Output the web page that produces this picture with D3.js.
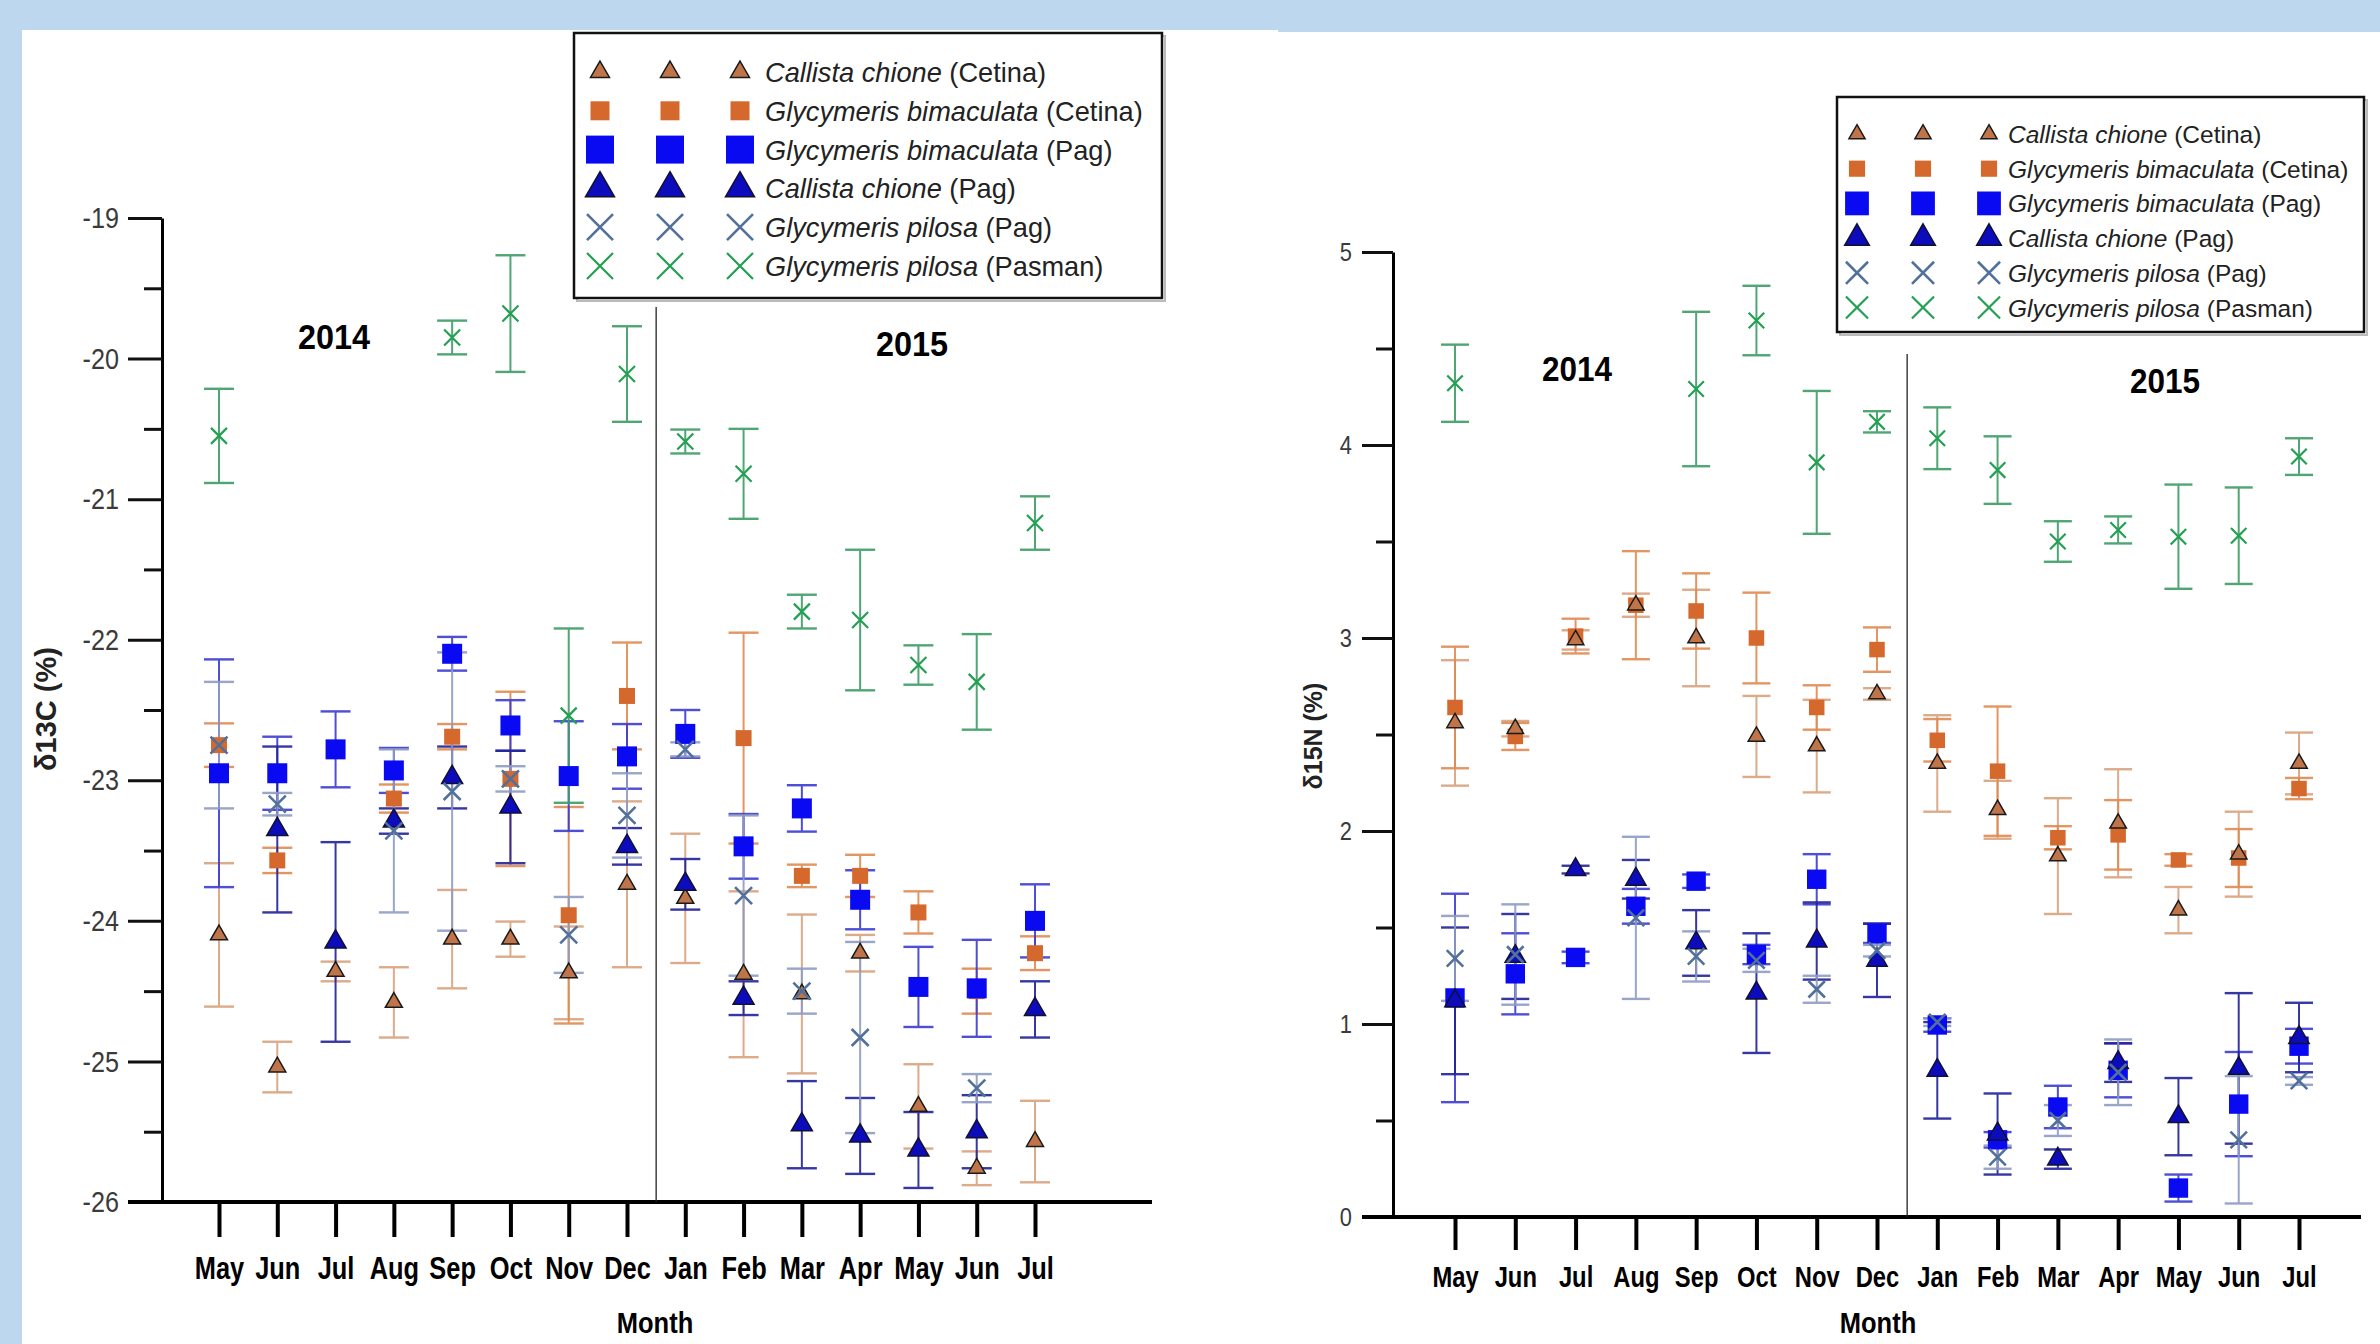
<!DOCTYPE html>
<html>
<head>
<meta charset="utf-8">
<script src="https://cdn.jsdelivr.net/npm/d3@7"></script>
<style>
  body { margin: 0; background: #bdd7ee; }
  svg { display: block; }
</style>
</head>
<body>
<svg id="chart" width="2380" height="1344"></svg>
<script>
const months = ["May","Jun","Jul","Aug","Sep","Oct","Nov","Dec","Jan","Feb","Mar","Apr","May","Jun","Jul"];

// d13C means and error half-widths (null = not sampled)
const c13CallistaCetina    = [-24.10,-25.04,-24.36,-24.58,-24.13,-24.13,-24.37,-23.74,-23.84,-24.38,-24.52,-24.23,-25.32,-25.76,-25.57];
const c13CallistaCetinaErr = [0.51,0.18,0.07,0.25,0.35,0.125,0.33,0.59,0.46,0.59,0.565,0.13,0.30,0.12,0.29];
const c13BimacCetina       = [-22.75,-23.57,null,-23.13,-22.69,-22.99,-23.96,-22.40,null,-22.70,-23.68,-23.68,-23.94,-24.50,-24.23];
const c13BimacCetinaErr    = [0.155,0.09,null,0.10,0.09,0.62,0.77,0.38,null,0.75,0.08,0.15,0.15,0.16,0.12];
const c13BimacPag          = [-22.95,-22.95,-22.78,-22.93,-22.10,-22.61,-22.97,-22.83,-22.67,-23.47,-23.20,-23.85,-24.47,-24.48,-24.00];
const c13BimacPagErr       = [0.81,0.26,0.27,0.16,0.12,0.18,0.39,0.23,0.17,0.23,0.165,0.21,0.285,0.345,0.26];
const c13CallistaPag       = [null,-23.35,-24.15,-23.29,-22.98,-23.19,null,-23.47,-23.74,-24.55,-25.45,-25.53,-25.63,-25.50,-24.63];
const c13CallistaPagErr    = [null,0.59,0.71,0.09,0.22,0.40,null,0.13,0.18,0.12,0.31,0.27,0.27,0.26,0.20];
const c13PilosaPag         = [-22.75,-23.17,null,-23.36,-23.08,-22.99,-24.10,-23.25,-22.78,-23.82,-24.50,-24.83,null,-25.19,null];
const c13PilosaPagErr      = [0.45,0.08,null,0.58,0.99,0.09,0.27,0.30,0.05,0.57,0.16,0.68,null,0.10,null];
const c13PilosaPasman      = [-20.55,null,null,null,-19.85,-19.68,-22.54,-20.11,-20.59,-20.82,-21.80,-21.86,-22.18,-22.30,-21.17];
const c13PilosaPasmanErr   = [0.335,null,null,null,0.12,0.415,0.62,0.34,0.085,0.32,0.12,0.50,0.14,0.34,0.19];

// d15N means and error half-widths
const n15CallistaCetina    = [2.56,2.53,2.99,3.17,3.00,2.49,2.44,2.71,2.35,2.11,1.87,2.04,1.59,1.88,2.35];
const n15CallistaCetinaErr = [0.325,0.04,0.05,0.06,0.25,0.21,0.24,0.03,0.25,0.15,0.30,0.28,0.12,0.22,0.16];
const n15BimacCetina       = [2.64,2.49,3.01,3.17,3.14,3.00,2.64,2.94,2.47,2.31,1.965,1.98,1.85,1.86,2.22];
const n15BimacCetinaErr    = [0.315,0.07,0.09,0.28,0.195,0.235,0.115,0.115,0.11,0.335,0.06,0.18,0.03,0.15,0.055];
const n15BimacPag          = [1.135,1.26,1.345,1.61,1.74,1.36,1.75,1.47,0.995,0.40,0.57,0.76,0.15,0.585,0.885];
const n15BimacPagErr       = [0.54,0.21,0.03,0.09,0.035,0.05,0.13,0.05,0.035,0.04,0.11,0.14,0.07,0.27,0.09];
const n15CallistaPag       = [1.12,1.35,1.80,1.75,1.42,1.16,1.43,1.33,0.76,0.43,0.30,0.80,0.52,0.77,0.93];
const n15CallistaPagErr    = [0.38,0.22,0.02,0.10,0.17,0.31,0.20,0.19,0.25,0.21,0.05,0.10,0.20,0.39,0.18];
const n15PilosaPag         = [1.34,1.36,null,1.55,1.35,1.33,1.18,1.38,1.01,0.31,0.50,0.75,null,0.40,0.705];
const n15PilosaPagErr      = [0.22,0.26,null,0.42,0.13,0.06,0.07,0.03,0.02,0.06,0.08,0.17,null,0.33,0.02];
const n15PilosaPasman      = [4.32,null,null,null,4.29,4.645,3.91,4.12,4.035,3.87,3.50,3.56,3.525,3.53,3.94];
const n15PilosaPasmanErr   = [0.20,null,null,null,0.40,0.18,0.37,0.055,0.16,0.175,0.105,0.07,0.27,0.25,0.095];

const c13Ticks = [-19,-20,-21,-22,-23,-24,-25,-26];
const c13Minor = [-19.5,-20.5,-21.5,-22.5,-23.5,-24.5,-25.5];
const n15Ticks = [0,1,2,3,4,5];
const n15Minor = [0.5,1.5,2.5,3.5,4.5];

const symbolCross = {
  draw(ctx, size) {
    const r = Math.sqrt(size) / 2;
    ctx.moveTo(-r, -r); ctx.lineTo(r, r);
    ctx.moveTo(r, -r); ctx.lineTo(-r, r);
  }
};

// marker styles (legend order)
const styles = [
  { species: "Callista chione", site: "(Cetina)", type: d3.symbolTriangle, w: 17, lw: 19, fill: "#c0744a", stroke: "#1a1a1a", sw: 1.5, bar: "#d9a27e" },
  { species: "Glycymeris bimaculata", site: "(Cetina)", type: d3.symbolSquare, w: 16, lw: 19, fill: "#d5692d", stroke: "none", sw: 0, bar: "#e08a52" },
  { species: "Glycymeris bimaculata", site: "(Pag)", type: d3.symbolSquare, w: 20, lw: 28, fill: "#0a0af2", stroke: "none", sw: 0, bar: "#3b3bd2" },
  { species: "Callista chione", site: "(Pag)", type: d3.symbolTriangle, w: 21, lw: 29, fill: "#0c0cbc", stroke: "#101030", sw: 1.5, bar: "#22229a" },
  { species: "Glycymeris pilosa", site: "(Pag)", type: symbolCross, w: 17, lw: 26, fill: "none", stroke: "#52719a", sw: 2.6, bar: "#8e9cc4" },
  { species: "Glycymeris pilosa", site: "(Pasman)", type: symbolCross, w: 16, lw: 26, fill: "none", stroke: "#23a052", sw: 2.2, bar: "#3d9d66" }
];

function symSize(st, w) {
  if (st.type === d3.symbolTriangle) return Math.sqrt(3) / 4 * w * w;
  return w * w;
}

const svg = d3.select("#chart");
svg.append("rect").attr("width", 2380).attr("height", 1344).attr("fill", "#bdd7ee");
svg.append("rect").attr("x", 22).attr("y", 30).attr("width", 1256).attr("height", 1314).attr("fill", "#fff");
svg.append("rect").attr("x", 1276).attr("y", 32).attr("width", 1104).attr("height", 1312).attr("fill", "#fff");

const sans = "'Liberation Sans',Arial,sans-serif";

function drawPanel(p) {
  const g = svg.append("g");
  const x = d3.scalePoint().domain(d3.range(months.length)).range(p.xRange);
  const y = d3.scaleLinear().domain(p.yDomain).range(p.yRange);

  // y axis
  const yAxis = g.append("g").attr("transform", `translate(${p.axisX},0)`)
    .call(d3.axisLeft(y).tickValues(p.ticks).tickSize(p.majorLen).tickSizeOuter(0).tickPadding(p.labelPad).tickFormat(d3.format("d")));
  yAxis.select(".domain").attr("stroke-width", 3).attr("stroke", "#000");
  yAxis.selectAll(".tick line").attr("stroke-width", 3).attr("stroke", "#111");
  yAxis.selectAll(".tick text").attr("font-family", sans).attr("font-size", p.tickFont).attr("fill", "#3a3a3a")
    .text(d => d < 0 ? "-" + Math.abs(d) : d)
    .attr("transform", function () { return `translate(${+this.getAttribute("x")},0) scale(0.84,1) translate(${-this.getAttribute("x")},0)`; });
  const yMinor = g.append("g").attr("transform", `translate(${p.axisX},0)`)
    .call(d3.axisLeft(y).tickValues(p.minor).tickSize(p.minorLen).tickSizeOuter(0).tickFormat(""));
  yMinor.select(".domain").remove();
  yMinor.selectAll(".tick line").attr("stroke-width", 3).attr("stroke", "#111");

  // x axis
  const xAxis = g.append("g").attr("transform", `translate(0,${y(p.yDomain[0])})`)
    .call(d3.axisBottom(x).tickSize(p.xTickLen).tickSizeOuter(0).tickPadding(p.xPad).tickFormat(i => months[i]));
  xAxis.select(".domain").remove();
  xAxis.selectAll(".tick line").attr("stroke-width", 4).attr("stroke", "#000");
  xAxis.selectAll(".tick text").attr("font-family", sans).attr("font-size", p.monthFont)
    .attr("font-weight", "bold").attr("fill", "#000").attr("transform", "scale(0.82,1)");
  g.append("line").attr("x1", p.xLine[0]).attr("x2", p.xLine[1])
    .attr("y1", y(p.yDomain[0])).attr("y2", y(p.yDomain[0]))
    .attr("stroke", "#000").attr("stroke-width", 4);

  // year divider
  g.append("line").attr("x1", (x(7) + x(8)) / 2).attr("x2", (x(7) + x(8)) / 2)
    .attr("y1", p.dividerTop).attr("y2", y(p.yDomain[0]))
    .attr("stroke", "#222").attr("stroke-width", 1.3);

  // error bars
  const half = p.cap / 2;
  p.series.forEach((s, k) => {
    const st = styles[k];
    const pts = s.v.map((v, i) => ({ i, v, e: s.e[i] })).filter(d => d.v != null);
    const eg = g.append("g").attr("stroke", st.bar).attr("stroke-width", 2).attr("opacity", 0.9);
    eg.selectAll(".stem").data(pts).join("line")
      .attr("x1", d => x(d.i)).attr("x2", d => x(d.i))
      .attr("y1", d => y(d.v - d.e)).attr("y2", d => y(d.v + d.e));
    eg.selectAll(".capHi").data(pts).join("line")
      .attr("x1", d => x(d.i) - half).attr("x2", d => x(d.i) + half)
      .attr("y1", d => y(d.v + d.e)).attr("y2", d => y(d.v + d.e)).attr("stroke-width", 2.4);
    eg.selectAll(".capLo").data(pts).join("line")
      .attr("x1", d => x(d.i) - half).attr("x2", d => x(d.i) + half)
      .attr("y1", d => y(d.v - d.e)).attr("y2", d => y(d.v - d.e)).attr("stroke-width", 2.4);
  });

  // markers
  const order = [1, 0, 2, 3, 4, 5];
  order.forEach(k => {
    const s = p.series[k], st = styles[k];
    const pts = s.v.map((v, i) => ({ i, v })).filter(d => d.v != null);
    g.append("g").selectAll("path").data(pts).join("path")
      .attr("d", d3.symbol().type(st.type).size(symSize(st, st.w * p.markScale)))
      .attr("transform", d => `translate(${x(d.i)},${y(d.v)})`)
      .attr("fill", st.fill).attr("stroke", st.stroke).attr("stroke-width", st.sw);
  });

  // year labels
  p.years.forEach(t => {
    g.append("text").attr("transform", `translate(${t.x},${t.y}) scale(0.9,1)`).attr("text-anchor", "middle")
      .attr("dominant-baseline", "central").attr("font-family", sans).attr("font-weight", "bold")
      .attr("font-size", p.yearFont).attr("fill", "#000").text(t.label);
  });

  // axis titles
  g.append("text").attr("transform", `translate(${p.yTitle[0]},${p.yTitle[1]}) rotate(-90)`)
    .attr("text-anchor", "middle").attr("dominant-baseline", "central")
    .attr("font-family", sans).attr("font-weight", "bold").attr("font-size", p.yTitleFont)
    .attr("fill", "#222").text(p.yTitleText);
  g.append("text").attr("transform", `translate(${p.xTitle[0]},${p.xTitle[1]}) scale(0.85,1)`).attr("text-anchor", "middle")
    .attr("font-family", sans).attr("font-weight", "bold").attr("font-size", 30).attr("fill", "#000").text("Month");

  // legend
  const L = p.legend;
  g.append("rect").attr("x", L.x + 3).attr("y", L.y + 3).attr("width", L.w).attr("height", L.h)
    .attr("fill", "none").attr("stroke", "#bbb").attr("stroke-width", 2);
  g.append("rect").attr("x", L.x).attr("y", L.y).attr("width", L.w).attr("height", L.h)
    .attr("fill", "#fff").attr("stroke", "#111").attr("stroke-width", 2.5);
  styles.forEach((st, k) => {
    const ry = L.row0 + k * L.rowStep;
    L.symX.forEach(sx => {
      g.append("path")
        .attr("d", d3.symbol().type(st.type).size(symSize(st, st.lw * L.scale)))
        .attr("transform", `translate(${sx},${ry})`)
        .attr("fill", st.fill).attr("stroke", st.stroke).attr("stroke-width", st.sw);
    });
    const t = g.append("text").attr("x", L.textX).attr("y", ry).attr("dominant-baseline", "central")
      .attr("font-family", sans).attr("font-size", L.font).attr("fill", "#222");
    t.append("tspan").attr("font-style", "italic").text(st.species);
    t.append("tspan").text(" " + st.site);
  });
}

drawPanel({
  xRange: [219, 1035], yDomain: [-26, -19], yRange: [1202, 218],
  axisX: 162, ticks: c13Ticks, minor: c13Minor, majorLen: 34, minorLen: 18, labelPad: 9, tickFont: 30,
  xTickLen: 35, xPad: 20, monthFont: 31, xLine: [128, 1152],
  dividerTop: 307, cap: 30, markScale: 1,
  series: [
    { v: c13CallistaCetina, e: c13CallistaCetinaErr },
    { v: c13BimacCetina, e: c13BimacCetinaErr },
    { v: c13BimacPag, e: c13BimacPagErr },
    { v: c13CallistaPag, e: c13CallistaPagErr },
    { v: c13PilosaPag, e: c13PilosaPagErr },
    { v: c13PilosaPasman, e: c13PilosaPasmanErr }
  ],
  years: [{ label: "2014", x: 334, y: 336 }, { label: "2015", x: 912, y: 343 }], yearFont: 36,
  yTitle: [46, 709], yTitleFont: 29, yTitleText: "δ13C (%)", xTitle: [655, 1333],
  legend: { x: 574, y: 33, w: 588, h: 265, row0: 72, rowStep: 38.8, symX: [600, 670, 740], textX: 765, font: 27.2, scale: 1 }
});

drawPanel({
  xRange: [1455, 2299], yDomain: [0, 5], yRange: [1217, 252],
  axisX: 1393, ticks: n15Ticks, minor: n15Minor, majorLen: 31, minorLen: 17, labelPad: 10, tickFont: 26,
  xTickLen: 33, xPad: 16, monthFont: 29, xLine: [1362, 2361],
  dividerTop: 354, cap: 28, markScale: 0.97,
  series: [
    { v: n15CallistaCetina, e: n15CallistaCetinaErr },
    { v: n15BimacCetina, e: n15BimacCetinaErr },
    { v: n15BimacPag, e: n15BimacPagErr },
    { v: n15CallistaPag, e: n15CallistaPagErr },
    { v: n15PilosaPag, e: n15PilosaPagErr },
    { v: n15PilosaPasman, e: n15PilosaPasmanErr }
  ],
  years: [{ label: "2014", x: 1577, y: 369 }, { label: "2015", x: 2165, y: 381 }], yearFont: 35,
  yTitle: [1313, 736], yTitleFont: 25, yTitleText: "δ15N (%)", xTitle: [1878, 1333],
  legend: { x: 1837, y: 97, w: 527, h: 235, row0: 134, rowStep: 34.7, symX: [1857, 1923, 1989], textX: 2008, font: 24.5, scale: 0.85 }
});
</script>
</body>
</html>
